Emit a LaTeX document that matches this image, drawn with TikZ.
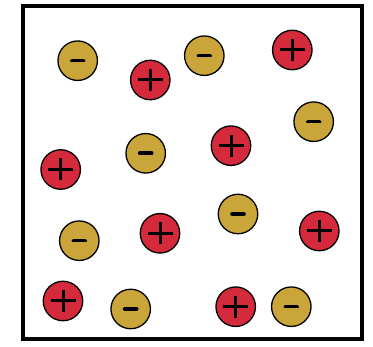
\documentclass[tikz,border=0pt]{standalone}
\definecolor{ionred}{HTML}{D42A3B}
\definecolor{iongold}{HTML}{C9A53A}
\tikzset{
  posball/.style={circle, draw=black, line width=1.3pt, fill=ionred, minimum size=39.5pt, inner sep=0pt},
  negball/.style={circle, draw=black, line width=1.3pt, fill=iongold, minimum size=39.5pt, inner sep=0pt},
  signline/.style={line width=3pt, black},
  minusline/.style={line width=3.6pt, black, line cap=round}
}
\newcommand{\plusion}[3]{%
  \node[posball] (#1) at (#2,#3) {};
  \draw[signline] ([xshift=-12.5pt]#1.center) -- ([xshift=12.5pt]#1.center);
  \draw[signline] ([yshift=-11pt]#1.center) -- ([yshift=11pt]#1.center);
}
\newcommand{\minusion}[3]{%
  \node[negball] (#1) at (#2,#3) {};
  \draw[minusline] ([xshift=-6pt]#1.center) -- ([xshift=6pt]#1.center);
}
\begin{document}
\begin{tikzpicture}[x=1pt,y=-1pt]
\useasboundingbox (0,0) rectangle (373,347);
\fill[white] (0,0) rectangle (373,347);
\draw[line width=4pt] (23,6) rectangle (362,339);
\minusion{n1}{77.7}{60.7}
\plusion{p1}{150.3}{80}
\minusion{n2}{204.3}{55.7}
\plusion{p2}{292.3}{50}
\minusion{n3}{313.7}{121.7}
\plusion{p3}{231}{145.7}
\minusion{n4}{145.7}{153.3}
\plusion{p4}{60.7}{169.5}
\minusion{n5}{79.3}{240.7}
\plusion{p5}{160}{233.3}
\minusion{n6}{238}{214}
\plusion{p6}{319.3}{231}
\plusion{p7}{63}{301}
\minusion{n7}{130.7}{309}
\plusion{p8}{235.7}{306.7}
\minusion{n8}{291.3}{306.7}
\end{tikzpicture}
\end{document}
